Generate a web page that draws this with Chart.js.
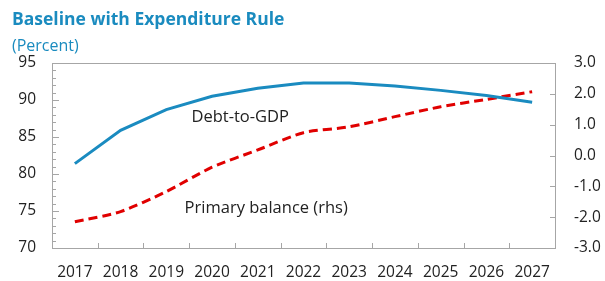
<!DOCTYPE html>
<html>
<head>
<meta charset="utf-8">
<script src="https://cdn.jsdelivr.net/npm/chart.js@4.4.0/dist/chart.umd.min.js"></script>
<style>
  body { margin: 0; background: #fff; }
  #wrap { position: relative; width: 605px; height: 281px; }
  #title { position: absolute; left: 12px; top: 6px; font: bold 17.5px "Open Sans", sans-serif; color: #1a8bbf; }
  #sub { position: absolute; left: 12px; top: 34px; font: 16px "Open Sans", sans-serif; color: #1a8bbf; }
</style>
</head>
<body>
<div id="wrap">
  <canvas id="chart" width="605" height="281"></canvas>
  <div id="title">Baseline with Expenditure Rule</div>
  <div id="sub">(Percent)</div>
</div>
<script>
// Chart data
const years = ['2017', '2018', '2019', '2020', '2021', '2022', '2023', '2024', '2025', '2026', '2027'];
const debtToGdp = [81.4, 85.9, 88.7, 90.5, 91.6, 92.3, 92.3, 91.9, 91.3, 90.6, 89.7];
const primaryBalance = [-2.15, -1.82, -1.17, -0.38, 0.18, 0.74, 0.93, 1.26, 1.58, 1.82, 2.07];

const blue = '#1a8bc0';
const red = '#e00000';
const axisGray = '#a6a6a6';
const font = { family: 'Open Sans', size: 15.5 };

// box, inward tick marks and in-chart labels
const decorations = {
  id: 'decorations',
  afterDraw(chart) {
    const { ctx, chartArea: a, scales } = chart;
    ctx.save();
    ctx.strokeStyle = axisGray;
    ctx.lineWidth = 1;
    ctx.strokeRect(a.left + 0.5, a.top + 0.5, a.right - a.left, a.bottom - a.top);
    ctx.beginPath();
    for (let v = 70; v <= 95; v++) {
      const y = Math.round(scales.y.getPixelForValue(v)) + 0.5;
      const len = v % 5 === 0 ? 7 : 4;
      ctx.moveTo(a.left, y); ctx.lineTo(a.left + len, y);
    }
    for (let v = -3; v <= 3; v++) {
      const y = Math.round(scales.y2.getPixelForValue(v)) + 0.5;
      ctx.moveTo(a.right, y); ctx.lineTo(a.right - 5, y);
    }
    for (let i = 0; i < years.length - 1; i++) {
      const x = Math.round((scales.x.getPixelForValue(i) + scales.x.getPixelForValue(i + 1)) / 2) + 0.5;
      ctx.moveTo(x, a.bottom); ctx.lineTo(x, a.bottom - 5);
    }
    ctx.stroke();

    ctx.fillStyle = '#222';
    ctx.font = '16.5px "Open Sans"';
    ctx.textBaseline = 'middle';
    ctx.fillText('Debt-to-GDP', scales.x.getPixelForValue(2.55), scales.y.getPixelForValue(87.7));
    ctx.fillText('Primary balance (rhs)', scales.x.getPixelForValue(2.4), scales.y.getPixelForValue(75.4));
    ctx.restore();
  }
};

new Chart(document.getElementById('chart'), {
  type: 'line',
  data: {
    labels: years,
    datasets: [
      {
        label: 'Debt-to-GDP',
        data: debtToGdp,
        yAxisID: 'y',
        borderColor: blue,
        borderWidth: 3,
        pointRadius: 0,
        tension: 0
      },
      {
        label: 'Primary balance (rhs)',
        data: primaryBalance,
        yAxisID: 'y2',
        borderColor: red,
        borderWidth: 3,
        borderDash: [9, 5],
        pointRadius: 0,
        tension: 0.25
      }
    ]
  },
  options: {
    responsive: false,
    animation: false,
    layout: { padding: { top: 63, left: 0, right: 0, bottom: 0 } },
    plugins: { legend: { display: false }, tooltip: { enabled: false } },
    scales: {
      x: {
        offset: true,
        grid: { display: false, drawTicks: false, offset: true },
        border: { display: false },
        ticks: { color: '#222', font, padding: 15, maxRotation: 0, autoSkip: false },
        afterFit: s => { s.height = 33; }
      },
      y: {
        position: 'left',
        min: 70, max: 95,
        grid: { display: false, drawTicks: false },
        border: { display: false },
        ticks: { stepSize: 5, color: '#222', font, padding: 16 },
        afterFit: s => { s.width = 52; }
      },
      y2: {
        position: 'right',
        min: -3, max: 3,
        grid: { display: false, drawTicks: false },
        border: { display: false },
        ticks: { stepSize: 1, color: '#222', font, padding: 19, callback: v => v.toFixed(1) },
        afterFit: s => { s.width = 50; }
      }
    }
  },
  plugins: [decorations]
});
</script>
</body>
</html>
